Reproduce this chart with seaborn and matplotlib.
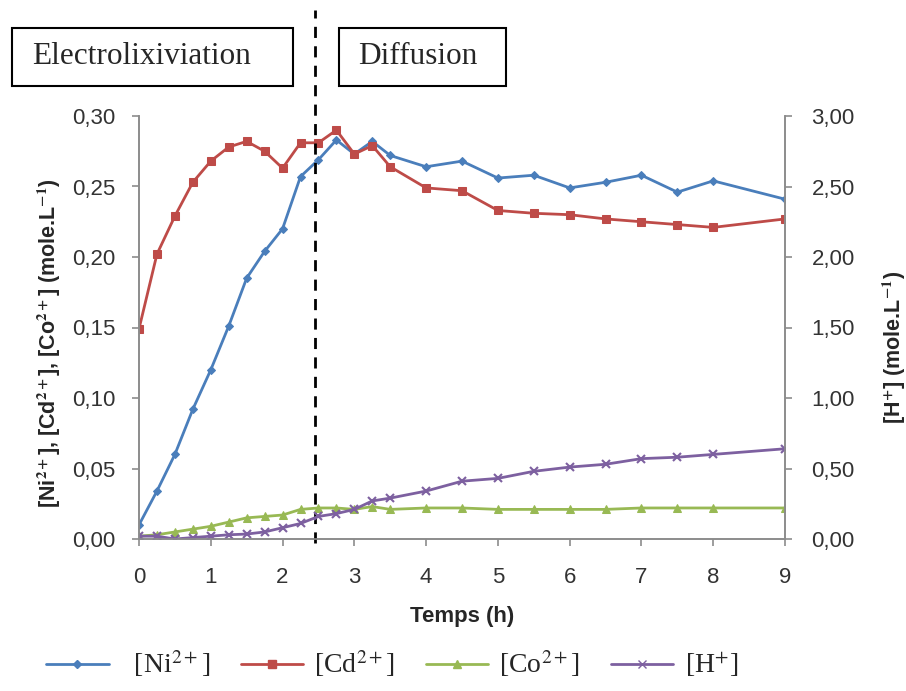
import numpy as np
import pandas as pd
import matplotlib
matplotlib.use("Agg")
import matplotlib.pyplot as plt
import seaborn as sns
from matplotlib.patches import Rectangle
from matplotlib.lines import Line2D
from matplotlib.ticker import FuncFormatter, MultipleLocator

# time (h)
temps = [0, 0.25, 0.5, 0.75, 1, 1.25, 1.5, 1.75, 2, 2.25, 2.5, 2.75, 3, 3.25, 3.5,
         4, 4.5, 5, 5.5, 6, 6.5, 7, 7.5, 8, 9]

# concentrations (mole/L), left axis
ni = [0.010, 0.034, 0.060, 0.092, 0.120, 0.151, 0.185, 0.204, 0.220, 0.257, 0.269, 0.283, 0.273,
      0.282, 0.272, 0.264, 0.268, 0.256, 0.258, 0.249, 0.253, 0.258, 0.246, 0.254, 0.241]
cd = [0.149, 0.202, 0.229, 0.253, 0.268, 0.278, 0.282, 0.275, 0.263, 0.281, 0.281, 0.290, 0.273,
      0.279, 0.264, 0.249, 0.247, 0.233, 0.231, 0.230, 0.227, 0.225, 0.223, 0.221, 0.227]
co = [0.002, 0.003, 0.005, 0.007, 0.009, 0.012, 0.015, 0.016, 0.017, 0.021, 0.022, 0.022, 0.021,
      0.023, 0.021, 0.022, 0.022, 0.021, 0.021, 0.021, 0.021, 0.022, 0.022, 0.022, 0.022]
# H+ (mole/L), right axis
h = [0.02, 0.02, 0.00, 0.01, 0.02, 0.03, 0.035, 0.05, 0.08, 0.11, 0.16, 0.18, 0.21,
     0.27, 0.29, 0.34, 0.41, 0.43, 0.48, 0.51, 0.53, 0.57, 0.58, 0.60, 0.64]

labels = [r"  [Ni$^{2+}$]", r"[Cd$^{2+}$]", r"[Co$^{2+}$]", r"[H$^{+}$]"]
colors = ["#4A7EBB", "#BE4B48", "#98B954", "#7D60A0"]
markers = ["D", "s", "^", "x"]
msizes = [4, 6, 6, 6]
t_switch = 2.45

sns.set_theme(style="white")
plt.rcParams["font.family"] = ["Liberation Sans", "DejaVu Sans"]
plt.rcParams["mathtext.fontset"] = "stix"

df = pd.DataFrame({"t": temps, "ni": ni, "cd": cd, "co": co, "h": h})

fig = plt.figure(figsize=(9.06, 6.91), dpi=100)
ax = fig.add_axes([139 / 906, 1 - 539 / 691, (785 - 139) / 906, (539 - 116) / 691])
ax2 = ax.twinx()

for col, c, m, ms in zip(["ni", "cd", "co"], colors[:3], markers[:3], msizes[:3]):
    sns.lineplot(data=df, x="t", y=col, ax=ax, color=c, marker=m, markersize=ms,
                 markeredgecolor=c, linewidth=2, legend=False)
sns.lineplot(data=df, x="t", y="h", ax=ax2, color=colors[3], marker=markers[3], markersize=6,
             markeredgecolor=colors[3], markeredgewidth=1.5, linewidth=2, legend=False)

ax.set_xlim(0, 9)
ax.set_ylim(0, 0.30)
ax2.set_ylim(0, 3.0)
ax.xaxis.set_major_locator(MultipleLocator(1))
ax.yaxis.set_major_locator(MultipleLocator(0.05))
ax2.yaxis.set_major_locator(MultipleLocator(0.5))
comma = FuncFormatter(lambda v, p: f"{v:.2f}".replace(".", ","))
ax.yaxis.set_major_formatter(comma)
ax2.yaxis.set_major_formatter(comma)

for a in (ax, ax2):
    for s in a.spines.values():
        s.set_color("#8c8c8c")
        s.set_linewidth(1.2)
    a.spines["top"].set_visible(False)
    a.tick_params(axis="both", which="major", direction="out", length=5, width=1.2,
                  color="#8c8c8c", labelsize=16, labelcolor="#333333")
ax.tick_params(axis="x", bottom=True, pad=15)
ax.tick_params(axis="y", left=True, pad=12)
ax2.tick_params(axis="y", right=True, pad=14)

ax.set_xlabel("Temps (h)", fontsize=16, fontweight="bold")
ax.set_ylabel(r"[Ni$^{\mathbf{2+}}$], [Cd$^{\mathbf{2+}}$], [Co$^{\mathbf{2+}}$] (mole.L$^{\mathbf{-1}}$)",
              fontsize=15.5, fontweight="bold")
ax2.set_ylabel(r"[H$^{\mathbf{+}}$] (mole.L$^{\mathbf{-1}}$)", fontsize=15.5, fontweight="bold",
               rotation=90)
ax.xaxis.set_label_coords(0.5, -0.158)
ax.yaxis.set_label_coords(-0.117, 0.463)
ax2.yaxis.set_label_coords(1.146, 0.452)

# phase separation
ax.axvline(t_switch, ymin=-0.01, ymax=(539 - 10) / 423, color="black", linestyle=(0, (4, 3)),
           linewidth=2, clip_on=False, zorder=5)

# phase boxes
for (x0, x1, tx, label) in [(12, 293, 32, "Electrolixiviation"), (339, 506, 358, "Diffusion")]:
    fig.add_artist(Rectangle((x0 / 906, 1 - 86 / 691), (x1 - x0) / 906, 58 / 691,
                             transform=fig.transFigure, fill=False, edgecolor="black", linewidth=1.5))
    fig.text(tx / 906, 1 - 57 / 691, label, fontsize=22.5, family="Liberation Serif",
             va="center", ha="left")

handles = [Line2D([0], [0], color=c, marker=m, markersize=ms, markeredgecolor=c, linewidth=2)
           for c, m, ms in zip(colors, markers, msizes)]
fig.legend(handles, labels, loc="center", bbox_to_anchor=(392 / 906, 1 - 664 / 691), ncol=4,
           frameon=False, prop={"family": "Liberation Serif", "size": 20}, handlelength=2.25,
           columnspacing=1.1, handletextpad=0.4)

fig.savefig("out.png", dpi=100)
